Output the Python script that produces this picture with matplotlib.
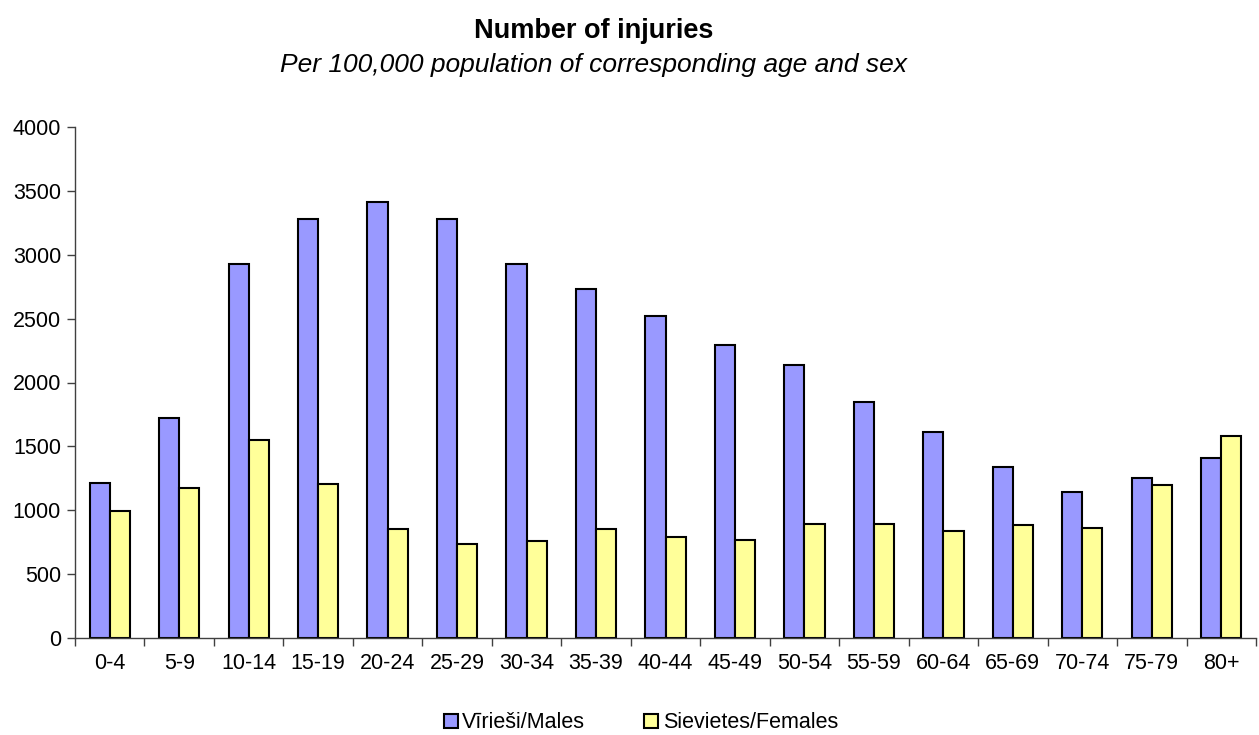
import matplotlib.pyplot as plt
import numpy as np

ages = ['0-4', '5-9', '10-14', '15-19', '20-24', '25-29', '30-34', '35-39', '40-44',
        '45-49', '50-54', '55-59', '60-64', '65-69', '70-74', '75-79', '80+']
males = [1210, 1719, 2924, 3279, 3410, 3276, 2929, 2731, 2524,
         2292, 2136, 1845, 1610, 1336, 1146, 1249, 1412]
females = [992, 1171, 1551, 1208, 855, 738, 763, 850, 791,
           766, 894, 894, 841, 883, 858, 1199, 1585]
yticks = [0, 500, 1000, 1500, 2000, 2500, 3000, 3500, 4000]

plt.rcParams['font.family'] = ['Liberation Sans', 'DejaVu Sans']

fig = plt.figure(figsize=(12.59, 7.35), dpi=100)
ax = fig.add_axes([75/1259, 1-638/735, (1256-75)/1259, (638-127)/735])

x = np.arange(len(ages))
w = 0.29
ax.bar(x - w/2, males, w, color='#9999FF', edgecolor='black', linewidth=1.5, label='Vīrieši/Males')
ax.bar(x + w/2, females, w, color='#FFFF99', edgecolor='black', linewidth=1.5, label='Sievietes/Females')

ax.set_xlim(-0.5, len(ages) - 0.5)
ax.set_ylim(0, 4000)
ax.set_yticks(yticks)
ax.set_yticklabels([str(v) for v in yticks], fontsize=15.5)
ax.set_xticks(x)
ax.set_xticklabels(ages, fontsize=15.5)
ax.set_xticks(np.arange(-0.5, len(ages), 1), minor=True)
ax.tick_params(axis='x', which='major', length=0, pad=11)
ax.tick_params(axis='x', which='minor', length=6, width=1, color='#404040')
ax.tick_params(axis='y', length=6, width=1, color='#404040', pad=4)

for s in ['top', 'right']:
    ax.spines[s].set_visible(False)
for s in ['left', 'bottom']:
    ax.spines[s].set_color('#404040')
    ax.spines[s].set_linewidth(1)

fig.text(594/1259, 1-31/735, 'Number of injuries', ha='center', va='center',
         fontsize=19.5, fontweight='bold')
fig.text(594/1259, 1-65/735, 'Per 100,000 population of corresponding age and sex', ha='center',
         va='center', fontsize=19, style='italic')

fig.legend(loc='center', bbox_to_anchor=(641/1259, 1-723/735), ncol=2, frameon=False,
           fontsize=15.5, handlelength=0.65, handleheight=0.65, handletextpad=0.2,
           columnspacing=2.75, borderpad=0)

fig.savefig('out.png', dpi=100)
